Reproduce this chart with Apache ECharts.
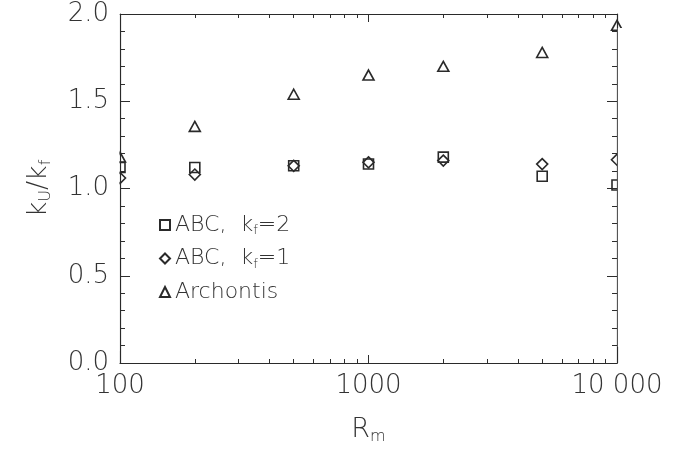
<!DOCTYPE html>
<html>
<head>
<meta charset="utf-8">
<script src="https://cdn.jsdelivr.net/npm/echarts@6/dist/echarts.min.js"></script>
<style>html,body{margin:0;padding:0;background:#fff}#c{width:682px;height:452px}</style>
</head>
<body>
<div id="c"></div>
<script>
// ---- data ----
const rm = [100, 200, 500, 1000, 2000, 5000, 10000];
const abcKf2 = [1.12, 1.12, 1.13, 1.14, 1.18, 1.07, 1.02];
const abcKf1 = [1.06, 1.08, 1.13, 1.15, 1.16, 1.14, 1.165];
const archontis = [1.18, 1.356, 1.54, 1.65, 1.70, 1.78, 1.935];
const xMinorTicks = [200, 300, 400, 500, 600, 700, 800, 900, 2000, 3000, 4000, 5000, 6000, 7000, 8000, 9000];
const xTickLabels = {100: '100', 1000: '1000', 10000: '10 000'};
const seriesNames = ['ABC,  k_f=2', 'ABC,  k_f=1', 'Archontis'];

const INK = '#2a2a2a';
const FONT = 'DejaVu Sans';
const GRID = { left: 120, right: 65, top: 14, bottom: 89 };
const W = 682, H = 452;

function pairs(ys) { return rm.map((x, i) => [x, ys[i]]); }

const chart = echarts.init(document.getElementById('c'), null, { renderer: 'canvas' });

const labelStyle = { fontFamily: FONT, fontWeight: 200, fontSize: 26, color: '#333' };
const nameStyle = { fontFamily: FONT, fontWeight: 200, fontSize: 27, color: '#333',
  rich: { sub: { fontFamily: FONT, fontWeight: 200, fontSize: 16, color: '#333', padding: [14, 0, 0, 0] } } };
// opacity slightly below 1 keeps each tick drawn on its own
const tickLine = { color: INK, width: 1, opacity: 0.99 };

function logAxis(pos, showLabel, minor) {
  return {
    type: 'log', logBase: 10, min: 100, max: 10000, position: pos,
    axisLine: { show: !minor, onZero: false, lineStyle: { color: INK, width: 1.2 } },
    axisTick: minor
      ? { show: true, inside: true, length: 4, customValues: xMinorTicks, lineStyle: tickLine }
      : { show: true, inside: true, length: 8, lineStyle: tickLine },
    axisLabel: Object.assign({ show: showLabel, margin: 10, formatter: v => xTickLabels[v] || '' }, labelStyle),
    splitLine: { show: false },
    minorTick: { show: false },
    name: showLabel ? 'R{sub|m}' : '',
    nameLocation: 'middle', nameGap: 52,
    nameTextStyle: nameStyle
  };
}

function valAxis(pos, showLabel) {
  return {
    type: 'value', min: 0, max: 2, interval: 0.5, position: pos,
    axisLine: { show: true, onZero: false, lineStyle: { color: INK, width: 1.2 } },
    axisTick: { show: true, inside: true, length: 10, lineStyle: tickLine },
    minorTick: { show: true, splitNumber: 5, length: 5, lineStyle: tickLine },
    axisLabel: Object.assign({ show: showLabel, margin: 11, formatter: v => v.toFixed(1) }, labelStyle),
    splitLine: { show: false },
    name: showLabel ? 'k{sub|U}/k{sub|f}' : '',
    nameLocation: 'middle', nameRotate: 90, nameGap: 66,
    nameTextStyle: nameStyle
  };
}

const icons = [
  'path://M0,0L10,0L10,10L0,10Z',
  'path://M5,0L10,5L5,10L0,5Z',
  'path://M5,0L10,10L0,10Z'
];
const symbolSizes = [[10, 10], [11, 11], [11, 10]];
const datasets = [abcKf2, abcKf1, archontis];

chart.setOption({
  animation: false,
  backgroundColor: '#fff',
  grid: GRID,
  xAxis: [logAxis('bottom', true, false), logAxis('top', false, false), logAxis('bottom', false, true), logAxis('top', false, true)],
  yAxis: [valAxis('left', true), valAxis('right', false)],
  legend: {
    orient: 'vertical', left: 159, top: 214, itemGap: 10, padding: 0,
    itemWidth: 10, itemHeight: 10,
    itemStyle: { color: 'rgba(0,0,0,0)', borderColor: INK, borderWidth: 2 },
    data: seriesNames.map((n, i) => ({ name: n, icon: icons[i] })),
    formatter: n => n.replace('k_f', 'k{sub|f}'),
    textStyle: { fontFamily: FONT, fontWeight: 200, fontSize: 22, color: '#333',
      rich: { sub: { fontFamily: FONT, fontWeight: 200, fontSize: 13, color: '#333', padding: [12, 0, 0, 0] } } }
  },
  // white masks just outside the frame so edge markers look cut by the axes
  graphic: [
    { type: 'rect', z: 100, silent: true, shape: { x: GRID.left - 9, y: GRID.top - 2, width: 8.4, height: H - GRID.top - GRID.bottom - 10 }, style: { fill: '#fff' } },
    { type: 'rect', z: 100, silent: true, shape: { x: W - GRID.right + 0.8, y: GRID.top + 14, width: 8, height: H - GRID.top - GRID.bottom - 30 }, style: { fill: '#fff' } }
  ],
  series: seriesNames.map((n, i) => ({
    name: n, type: 'scatter',
    xAxisIndex: 0, yAxisIndex: 0,
    symbol: icons[i],
    symbolSize: symbolSizes[i],
    itemStyle: { color: 'rgba(0,0,0,0)', borderColor: INK, borderWidth: 1.6, opacity: 1 },
    emphasis: { disabled: true },
    data: pairs(datasets[i])
  }))
});
</script>
</body>
</html>
